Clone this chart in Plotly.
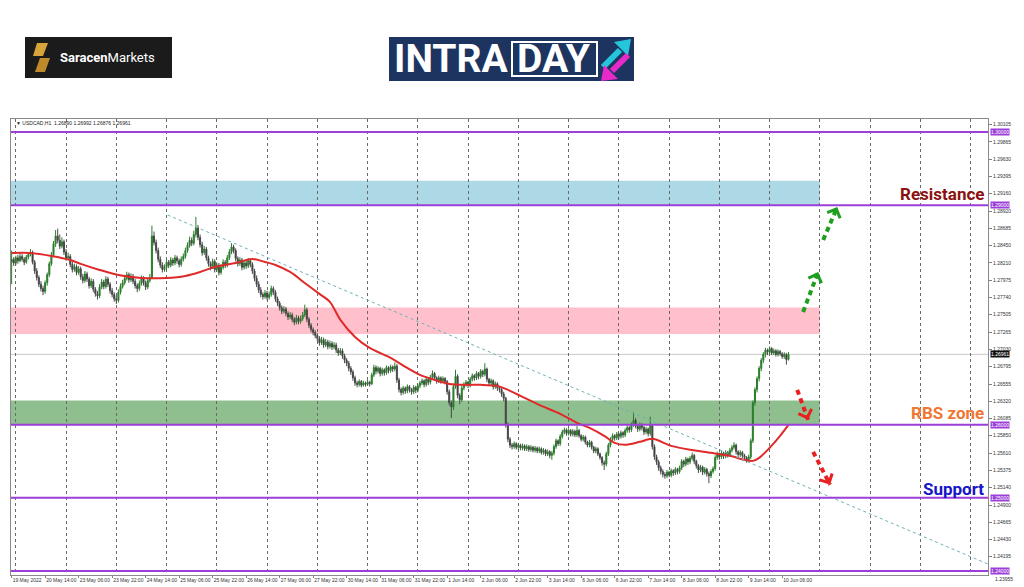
import plotly.graph_objects as go

# ---------------- data ----------------
opens = [
 1.2822, 1.2826, 1.2821, 1.2828, 1.2824, 1.2830, 1.2826, 1.2822, 1.2829, 1.2833, 1.2836, 1.2822,
 1.2810, 1.2801, 1.2792, 1.2786, 1.2782, 1.2794, 1.2805, 1.2820, 1.2832, 1.2847, 1.2858, 1.2852,
 1.2844, 1.2850, 1.2836, 1.2828, 1.2830, 1.2819, 1.2812, 1.2816, 1.2808, 1.2813, 1.2802, 1.2797,
 1.2806, 1.2799, 1.2790, 1.2796, 1.2785, 1.2779, 1.2776, 1.2788, 1.2795, 1.2789, 1.2799, 1.2792,
 1.2783, 1.2778, 1.2772, 1.2770, 1.2781, 1.2789, 1.2794, 1.2800, 1.2805, 1.2798, 1.2803, 1.2796,
 1.2790, 1.2786, 1.2793, 1.2800, 1.2794, 1.2788, 1.2797, 1.2801, 1.2858, 1.2849, 1.2838, 1.2826,
 1.2818, 1.2812, 1.2815, 1.2822, 1.2818, 1.2825, 1.2821, 1.2828, 1.2824, 1.2819, 1.2826, 1.2830,
 1.2838, 1.2845, 1.2852, 1.2848, 1.2860, 1.2869, 1.2856, 1.2846, 1.2835, 1.2840, 1.2828, 1.2820,
 1.2816, 1.2823, 1.2812, 1.2818, 1.2808, 1.2815, 1.2822, 1.2818, 1.2828, 1.2836, 1.2843, 1.2838,
 1.2827, 1.2820, 1.2825, 1.2815, 1.2821, 1.2817, 1.2824, 1.2819, 1.2810, 1.2800, 1.2792, 1.2784,
 1.2778, 1.2775, 1.2780, 1.2774, 1.2778, 1.2786, 1.2781, 1.2772, 1.2766, 1.2760, 1.2755, 1.2758,
 1.2752, 1.2747, 1.2750, 1.2744, 1.2740, 1.2746, 1.2741, 1.2745, 1.2750, 1.2757, 1.2744, 1.2736,
 1.2730, 1.2726, 1.2722, 1.2718, 1.2712, 1.2716, 1.2709, 1.2713, 1.2707, 1.2711, 1.2706, 1.2709,
 1.2702, 1.2698, 1.2701, 1.2694, 1.2688, 1.2684, 1.2677, 1.2672, 1.2664, 1.2657, 1.2655, 1.2659,
 1.2654, 1.2657, 1.2655, 1.2658, 1.2656, 1.2668, 1.2678, 1.2673, 1.2677, 1.2670, 1.2675, 1.2671,
 1.2678, 1.2674, 1.2679, 1.2676, 1.2680, 1.2661, 1.2648, 1.2644, 1.2650, 1.2646, 1.2652, 1.2648,
 1.2645, 1.2651, 1.2647, 1.2653, 1.2657, 1.2660, 1.2655, 1.2662, 1.2658, 1.2665, 1.2670, 1.2664,
 1.2660, 1.2664, 1.2660, 1.2663, 1.2659, 1.2645, 1.2630, 1.2624, 1.2652, 1.2666, 1.2640, 1.2634,
 1.2650, 1.2655, 1.2658, 1.2654, 1.2662, 1.2667, 1.2664, 1.2670, 1.2666, 1.2673, 1.2669, 1.2676,
 1.2662, 1.2657, 1.2660, 1.2652, 1.2656, 1.2650, 1.2648, 1.2642, 1.2636, 1.2600, 1.2580, 1.2572,
 1.2570, 1.2574, 1.2569, 1.2572, 1.2568, 1.2571, 1.2567, 1.2570, 1.2566, 1.2569, 1.2565, 1.2568,
 1.2564, 1.2567, 1.2562, 1.2565, 1.2560, 1.2563, 1.2558, 1.2561, 1.2570, 1.2578, 1.2574, 1.2584,
 1.2590, 1.2593, 1.2588, 1.2592, 1.2587, 1.2591, 1.2586, 1.2592, 1.2585, 1.2580, 1.2583, 1.2576,
 1.2572, 1.2576, 1.2569, 1.2564, 1.2567, 1.2560, 1.2555, 1.2548, 1.2546, 1.2560, 1.2572, 1.2580,
 1.2585, 1.2582, 1.2587, 1.2584, 1.2589, 1.2586, 1.2592, 1.2596, 1.2593, 1.2600, 1.2606, 1.2598,
 1.2594, 1.2600, 1.2596, 1.2590, 1.2594, 1.2588, 1.2599, 1.2570, 1.2556, 1.2549, 1.2541, 1.2536,
 1.2532, 1.2530, 1.2535, 1.2531, 1.2537, 1.2534, 1.2539, 1.2536, 1.2541, 1.2550, 1.2546, 1.2553,
 1.2549, 1.2554, 1.2558, 1.2550, 1.2544, 1.2538, 1.2542, 1.2535, 1.2539, 1.2533, 1.2530, 1.2536,
 1.2540, 1.2555, 1.2560, 1.2556, 1.2561, 1.2557, 1.2562, 1.2559, 1.2565, 1.2569, 1.2572, 1.2563,
 1.2559, 1.2562, 1.2558, 1.2555, 1.2552, 1.2556, 1.2578, 1.2630, 1.2648, 1.2663, 1.2677, 1.2688,
 1.2696, 1.2702, 1.2699, 1.2704, 1.2698, 1.2701, 1.2696, 1.2700, 1.2697, 1.2693, 1.2696, 1.26890,
]
highs = [
 1.2838, 1.2829, 1.2831, 1.2832, 1.2834, 1.2833, 1.2829, 1.2832, 1.2836, 1.2840, 1.2838, 1.2825,
 1.2814, 1.2804, 1.2796, 1.2790, 1.2797, 1.2808, 1.2823, 1.2836, 1.2851, 1.2866, 1.2868, 1.2860,
 1.2856, 1.2853, 1.2840, 1.2835, 1.2833, 1.2823, 1.2820, 1.2819, 1.2817, 1.2816, 1.2806, 1.2810,
 1.2809, 1.2802, 1.2800, 1.2799, 1.2788, 1.2783, 1.2792, 1.2799, 1.2798, 1.2803, 1.2802, 1.2795,
 1.2787, 1.2781, 1.2776, 1.2785, 1.2793, 1.2798, 1.2804, 1.2809, 1.2808, 1.2807, 1.2806, 1.2799,
 1.2793, 1.2797, 1.2804, 1.2803, 1.2797, 1.2801, 1.2806, 1.2872, 1.2864, 1.2853, 1.2842, 1.2830,
 1.2822, 1.2819, 1.2826, 1.2825, 1.2829, 1.2828, 1.2832, 1.2831, 1.2827, 1.2830, 1.2834, 1.2842,
 1.2849, 1.2857, 1.2856, 1.2865, 1.2884, 1.2873, 1.2860, 1.2850, 1.2844, 1.2843, 1.2831, 1.2823,
 1.2827, 1.2826, 1.2822, 1.2821, 1.2819, 1.2826, 1.2825, 1.2832, 1.2840, 1.2848, 1.2846, 1.2841,
 1.2830, 1.2829, 1.2828, 1.2825, 1.2824, 1.2828, 1.2827, 1.2822, 1.2813, 1.2804, 1.2796, 1.2788,
 1.2781, 1.2784, 1.2783, 1.2782, 1.2790, 1.2789, 1.2784, 1.2775, 1.2769, 1.2763, 1.2762, 1.2761,
 1.2755, 1.2754, 1.2753, 1.2747, 1.2750, 1.2749, 1.2749, 1.2754, 1.2764, 1.2760, 1.2747, 1.2739,
 1.2733, 1.2729, 1.2725, 1.2721, 1.2720, 1.2719, 1.2717, 1.2716, 1.2715, 1.2714, 1.2713, 1.2712,
 1.2705, 1.2705, 1.2704, 1.2697, 1.2691, 1.2687, 1.2680, 1.2675, 1.2667, 1.2660, 1.2662, 1.2661,
 1.2660, 1.2659, 1.2661, 1.2660, 1.2671, 1.2682, 1.2681, 1.2680, 1.2679, 1.2678, 1.2677, 1.2681,
 1.2680, 1.2682, 1.2681, 1.2685, 1.2683, 1.2664, 1.2651, 1.2653, 1.2652, 1.2655, 1.2654, 1.2650,
 1.2654, 1.2653, 1.2656, 1.2660, 1.2663, 1.2662, 1.2665, 1.2664, 1.2668, 1.2674, 1.2672, 1.2666,
 1.2667, 1.2666, 1.2666, 1.2665, 1.2661, 1.2648, 1.2633, 1.2656, 1.2675, 1.2669, 1.2643, 1.2654,
 1.2658, 1.2661, 1.2660, 1.2665, 1.2670, 1.2669, 1.2673, 1.2672, 1.2676, 1.2675, 1.2684, 1.2678,
 1.2664, 1.2663, 1.2662, 1.2659, 1.2658, 1.2653, 1.2650, 1.2645, 1.2638, 1.2603, 1.2583, 1.2575,
 1.2577, 1.2576, 1.2575, 1.2574, 1.2574, 1.2573, 1.2573, 1.2572, 1.2572, 1.2571, 1.2571, 1.2570,
 1.2570, 1.2569, 1.2568, 1.2567, 1.2566, 1.2565, 1.2564, 1.2573, 1.2581, 1.2580, 1.2587, 1.2593,
 1.2596, 1.2595, 1.2595, 1.2594, 1.2594, 1.2593, 1.2598, 1.2594, 1.2587, 1.2586, 1.2585, 1.2578,
 1.2579, 1.2578, 1.2571, 1.2570, 1.2569, 1.2562, 1.2557, 1.2551, 1.2563, 1.2575, 1.2583, 1.2588,
 1.2587, 1.2590, 1.2589, 1.2592, 1.2591, 1.2595, 1.2599, 1.2598, 1.2603, 1.2617, 1.2609, 1.2601,
 1.2603, 1.2602, 1.2598, 1.2597, 1.2596, 1.2611, 1.2601, 1.2573, 1.2559, 1.2552, 1.2544, 1.2539,
 1.2535, 1.2538, 1.2537, 1.2540, 1.2539, 1.2542, 1.2541, 1.2544, 1.2553, 1.2552, 1.2556, 1.2555,
 1.2557, 1.2562, 1.2560, 1.2552, 1.2546, 1.2545, 1.2544, 1.2542, 1.2541, 1.2536, 1.2539, 1.2543,
 1.2558, 1.2563, 1.2562, 1.2564, 1.2563, 1.2565, 1.2564, 1.2568, 1.2572, 1.2576, 1.2574, 1.2565,
 1.2565, 1.2564, 1.2560, 1.2557, 1.2559, 1.2581, 1.2633, 1.2651, 1.2666, 1.2680, 1.2691, 1.2699,
 1.2705, 1.2704, 1.2707, 1.2706, 1.2704, 1.2703, 1.2703, 1.2702, 1.2699, 1.2699, 1.2698, 1.26992,
]
lows = [
 1.2792, 1.2817, 1.2818, 1.2820, 1.2822, 1.2823, 1.2818, 1.2820, 1.2826, 1.2830, 1.2819, 1.2806,
 1.2797, 1.2788, 1.2782, 1.2777, 1.2779, 1.2790, 1.2802, 1.2817, 1.2829, 1.2843, 1.2848, 1.2840,
 1.2841, 1.2832, 1.2824, 1.2825, 1.2815, 1.2808, 1.2809, 1.2804, 1.2805, 1.2798, 1.2793, 1.2794,
 1.2795, 1.2786, 1.2787, 1.2781, 1.2775, 1.2771, 1.2773, 1.2785, 1.2785, 1.2786, 1.2788, 1.2779,
 1.2774, 1.2768, 1.2765, 1.2767, 1.2778, 1.2786, 1.2791, 1.2797, 1.2794, 1.2795, 1.2792, 1.2786,
 1.2781, 1.2783, 1.2790, 1.2790, 1.2784, 1.2785, 1.2794, 1.2799, 1.2845, 1.2834, 1.2822, 1.2814,
 1.2808, 1.2809, 1.2812, 1.2814, 1.2815, 1.2817, 1.2818, 1.2820, 1.2815, 1.2816, 1.2823, 1.2827,
 1.2835, 1.2842, 1.2844, 1.2845, 1.2856, 1.2852, 1.2842, 1.2831, 1.2832, 1.2824, 1.2816, 1.2811,
 1.2813, 1.2808, 1.2809, 1.2804, 1.2805, 1.2812, 1.2814, 1.2815, 1.2825, 1.2833, 1.2834, 1.2823,
 1.2816, 1.2817, 1.2811, 1.2812, 1.2813, 1.2814, 1.2815, 1.2806, 1.2796, 1.2788, 1.2780, 1.2774,
 1.2771, 1.2772, 1.2770, 1.2771, 1.2775, 1.2777, 1.2768, 1.2762, 1.2756, 1.2751, 1.2752, 1.2748,
 1.2743, 1.2744, 1.2740, 1.2736, 1.2737, 1.2737, 1.2738, 1.2742, 1.2747, 1.2740, 1.2732, 1.2726,
 1.2722, 1.2718, 1.2714, 1.2708, 1.2709, 1.2705, 1.2706, 1.2703, 1.2704, 1.2702, 1.2703, 1.2698,
 1.2694, 1.2695, 1.2690, 1.2684, 1.2680, 1.2673, 1.2668, 1.2660, 1.2653, 1.2651, 1.2652, 1.2651,
 1.2652, 1.2652, 1.2653, 1.2652, 1.2654, 1.2665, 1.2669, 1.2670, 1.2666, 1.2667, 1.2667, 1.2668,
 1.2670, 1.2671, 1.2672, 1.2673, 1.2657, 1.2644, 1.2640, 1.2641, 1.2642, 1.2643, 1.2644, 1.2641,
 1.2642, 1.2643, 1.2644, 1.2650, 1.2654, 1.2651, 1.2652, 1.2654, 1.2655, 1.2662, 1.2660, 1.2656,
 1.2657, 1.2656, 1.2657, 1.2655, 1.2641, 1.2626, 1.2609, 1.2620, 1.2649, 1.2636, 1.2628, 1.2631,
 1.2647, 1.2652, 1.2650, 1.2651, 1.2659, 1.2660, 1.2661, 1.2662, 1.2663, 1.2665, 1.2666, 1.2658,
 1.2653, 1.2654, 1.2648, 1.2649, 1.2646, 1.2644, 1.2638, 1.2632, 1.2596, 1.2576, 1.2568, 1.2566,
 1.2567, 1.2566, 1.2566, 1.2565, 1.2565, 1.2564, 1.2564, 1.2563, 1.2563, 1.2562, 1.2562, 1.2561,
 1.2561, 1.2559, 1.2559, 1.2557, 1.2557, 1.2554, 1.2552, 1.2558, 1.2567, 1.2571, 1.2571, 1.2581,
 1.2587, 1.2585, 1.2585, 1.2584, 1.2584, 1.2583, 1.2583, 1.2582, 1.2577, 1.2577, 1.2573, 1.2569,
 1.2569, 1.2566, 1.2561, 1.2561, 1.2557, 1.2552, 1.2544, 1.2538, 1.2543, 1.2557, 1.2569, 1.2577,
 1.2578, 1.2579, 1.2580, 1.2581, 1.2582, 1.2583, 1.2589, 1.2589, 1.2590, 1.2597, 1.2595, 1.2590,
 1.2591, 1.2592, 1.2586, 1.2587, 1.2584, 1.2585, 1.2566, 1.2552, 1.2545, 1.2537, 1.2532, 1.2528,
 1.2526, 1.2527, 1.2528, 1.2528, 1.2530, 1.2531, 1.2532, 1.2533, 1.2538, 1.2542, 1.2543, 1.2545,
 1.2546, 1.2551, 1.2546, 1.2540, 1.2534, 1.2535, 1.2531, 1.2532, 1.2529, 1.2520, 1.2527, 1.2533,
 1.2537, 1.2552, 1.2552, 1.2553, 1.2553, 1.2554, 1.2555, 1.2556, 1.2562, 1.2566, 1.2559, 1.2555,
 1.2556, 1.2554, 1.2551, 1.2548, 1.2549, 1.2553, 1.2575, 1.2626, 1.2644, 1.2659, 1.2673, 1.2684,
 1.2692, 1.2695, 1.2696, 1.2695, 1.2695, 1.2693, 1.2693, 1.2694, 1.2690, 1.2690, 1.2682, 1.26876,
]
closes = [
 1.2826, 1.2821, 1.2828, 1.2824, 1.2830, 1.2826, 1.2822, 1.2829, 1.2833, 1.2836, 1.2822, 1.2810,
 1.2801, 1.2792, 1.2786, 1.2782, 1.2794, 1.2805, 1.2820, 1.2832, 1.2847, 1.2858, 1.2852, 1.2844,
 1.2850, 1.2836, 1.2828, 1.2830, 1.2819, 1.2812, 1.2816, 1.2808, 1.2813, 1.2802, 1.2797, 1.2806,
 1.2799, 1.2790, 1.2796, 1.2785, 1.2779, 1.2776, 1.2788, 1.2795, 1.2789, 1.2799, 1.2792, 1.2783,
 1.2778, 1.2772, 1.2770, 1.2781, 1.2789, 1.2794, 1.2800, 1.2805, 1.2798, 1.2803, 1.2796, 1.2790,
 1.2786, 1.2793, 1.2800, 1.2794, 1.2788, 1.2797, 1.2801, 1.2858, 1.2849, 1.2838, 1.2826, 1.2818,
 1.2812, 1.2815, 1.2822, 1.2818, 1.2825, 1.2821, 1.2828, 1.2824, 1.2819, 1.2826, 1.2830, 1.2838,
 1.2845, 1.2852, 1.2848, 1.2860, 1.2869, 1.2856, 1.2846, 1.2835, 1.2840, 1.2828, 1.2820, 1.2816,
 1.2823, 1.2812, 1.2818, 1.2808, 1.2815, 1.2822, 1.2818, 1.2828, 1.2836, 1.2843, 1.2838, 1.2827,
 1.2820, 1.2825, 1.2815, 1.2821, 1.2817, 1.2824, 1.2819, 1.2810, 1.2800, 1.2792, 1.2784, 1.2778,
 1.2775, 1.2780, 1.2774, 1.2778, 1.2786, 1.2781, 1.2772, 1.2766, 1.2760, 1.2755, 1.2758, 1.2752,
 1.2747, 1.2750, 1.2744, 1.2740, 1.2746, 1.2741, 1.2745, 1.2750, 1.2757, 1.2744, 1.2736, 1.2730,
 1.2726, 1.2722, 1.2718, 1.2712, 1.2716, 1.2709, 1.2713, 1.2707, 1.2711, 1.2706, 1.2709, 1.2702,
 1.2698, 1.2701, 1.2694, 1.2688, 1.2684, 1.2677, 1.2672, 1.2664, 1.2657, 1.2655, 1.2659, 1.2654,
 1.2657, 1.2655, 1.2658, 1.2656, 1.2668, 1.2678, 1.2673, 1.2677, 1.2670, 1.2675, 1.2671, 1.2678,
 1.2674, 1.2679, 1.2676, 1.2680, 1.2661, 1.2648, 1.2644, 1.2650, 1.2646, 1.2652, 1.2648, 1.2645,
 1.2651, 1.2647, 1.2653, 1.2657, 1.2660, 1.2655, 1.2662, 1.2658, 1.2665, 1.2670, 1.2664, 1.2660,
 1.2664, 1.2660, 1.2663, 1.2659, 1.2645, 1.2630, 1.2624, 1.2652, 1.2666, 1.2640, 1.2634, 1.2650,
 1.2655, 1.2658, 1.2654, 1.2662, 1.2667, 1.2664, 1.2670, 1.2666, 1.2673, 1.2669, 1.2676, 1.2662,
 1.2657, 1.2660, 1.2652, 1.2656, 1.2650, 1.2648, 1.2642, 1.2636, 1.2600, 1.2580, 1.2572, 1.2570,
 1.2574, 1.2569, 1.2572, 1.2568, 1.2571, 1.2567, 1.2570, 1.2566, 1.2569, 1.2565, 1.2568, 1.2564,
 1.2567, 1.2562, 1.2565, 1.2560, 1.2563, 1.2558, 1.2561, 1.2570, 1.2578, 1.2574, 1.2584, 1.2590,
 1.2593, 1.2588, 1.2592, 1.2587, 1.2591, 1.2586, 1.2592, 1.2585, 1.2580, 1.2583, 1.2576, 1.2572,
 1.2576, 1.2569, 1.2564, 1.2567, 1.2560, 1.2555, 1.2548, 1.2546, 1.2560, 1.2572, 1.2580, 1.2585,
 1.2582, 1.2587, 1.2584, 1.2589, 1.2586, 1.2592, 1.2596, 1.2593, 1.2600, 1.2606, 1.2598, 1.2594,
 1.2600, 1.2596, 1.2590, 1.2594, 1.2588, 1.2599, 1.2570, 1.2556, 1.2549, 1.2541, 1.2536, 1.2532,
 1.2530, 1.2535, 1.2531, 1.2537, 1.2534, 1.2539, 1.2536, 1.2541, 1.2550, 1.2546, 1.2553, 1.2549,
 1.2554, 1.2558, 1.2550, 1.2544, 1.2538, 1.2542, 1.2535, 1.2539, 1.2533, 1.2530, 1.2536, 1.2540,
 1.2555, 1.2560, 1.2556, 1.2561, 1.2557, 1.2562, 1.2559, 1.2565, 1.2569, 1.2572, 1.2563, 1.2559,
 1.2562, 1.2558, 1.2555, 1.2552, 1.2556, 1.2578, 1.2630, 1.2648, 1.2663, 1.2677, 1.2688, 1.2696,
 1.2702, 1.2699, 1.2704, 1.2698, 1.2701, 1.2696, 1.2700, 1.2697, 1.2693, 1.2696, 1.2689, 1.26961,
]

# moving average (red line)
ma_bars = [0, 9, 19, 28, 33, 42, 51, 62, 74, 83, 90, 97, 107, 115, 121, 126, 133, 140, 147, 152,
           157, 164, 171, 181, 188, 195, 202, 209, 217, 224, 232, 236, 243, 252, 262, 270, 276, 283,
           288, 293, 300, 306, 315, 324, 334, 343, 350, 354, 357, 362, 367, 371]
ma_values = [1.28347, 1.28347, 1.28306, 1.28251, 1.28197, 1.28115, 1.28046, 1.28005, 1.28005, 1.28033,
             1.28087, 1.28156, 1.28210, 1.28265, 1.28224, 1.28183, 1.28087, 1.27937, 1.27787, 1.27678,
             1.27432, 1.27199, 1.27049, 1.26913, 1.26790, 1.26680, 1.26612, 1.26557, 1.26544, 1.26544,
             1.26530, 1.26489, 1.26393, 1.26270, 1.26148, 1.26025, 1.25956, 1.25847, 1.25751, 1.25724,
             1.25765, 1.25806, 1.25710, 1.25656, 1.25615, 1.25574, 1.25519, 1.25505, 1.25546, 1.25683,
             1.25847, 1.25997]

# descending trend line (ray)
trend_bars = [74.5, 466.3]
trend_prices = [1.28866, 1.24094]

# time axis labels
date_label_bars = [0, 16, 32, 48, 64, 80, 96, 112, 128, 144, 160, 176, 192, 208, 224, 240,
                   256, 272, 288, 304, 320, 336, 352, 368]
date_labels = ["19 May 2022", "20 May 14:00", "23 May 06:00", "23 May 22:00", "24 May 14:00",
               "25 May 06:00", "25 May 22:00", "26 May 14:00", "27 May 06:00", "27 May 22:00",
               "30 May 14:00", "31 May 06:00", "31 May 22:00", "1 Jun 14:00", "2 Jun 06:00",
               "2 Jun 22:00", "3 Jun 14:00", "6 Jun 06:00", "6 Jun 22:00", "7 Jun 14:00",
               "8 Jun 06:00", "8 Jun 22:00", "9 Jun 14:00", "10 Jun 06:00"]

# price axis labels (the lowest one sits just under the 1.24000 box)
price_ticks = [1.30105, 1.29865, 1.29630, 1.29395, 1.29160, 1.28920, 1.28685, 1.28450, 1.28210,
               1.27975, 1.27740, 1.27505, 1.27265, 1.27030, 1.26795, 1.26555, 1.26320, 1.26085,
               1.25850, 1.25610, 1.25375, 1.25140, 1.24900, 1.24665, 1.24430, 1.24195]
bottom_price_label = 1.23955

# horizontal levels and zones
levels = [1.30000, 1.29000, 1.26000, 1.25000, 1.24000]
zone_lows = [1.29000, 1.27240, 1.26000]
zone_highs = [1.29335, 1.27600, 1.26330]
zone_colors = ["#add8e6", "#ffc0cb", "#8fbf8f"]
zone_end_bar = 386

# level captions
caption_texts = ["Resistance", "RBS zone", "Support"]
caption_prices = [1.29153, 1.26161, 1.25123]
caption_colors = ["#8b1010", "#ee7833", "#1515c8"]

# scenario arrows: (tail bar, tail price, tip bar, tip price)
arrows_up = [(378.0, 1.27541, 385.2, 1.28087), (387.6, 1.28525, 394.3, 1.28975)]
arrows_down = [(375.2, 1.26475, 380.4, 1.26066), (382.8, 1.25628, 390.9, 1.25178)]

header = "▼ USDCAD,H1  1.26890 1.26992 1.26876 1.26961"

# ---------------- layout geometry ----------------
W, H = 1024, 587
PL, PR, PT, PB = 11, 988, 119, 575


def PX(px):
    return (px - PL) / (PR - PL)


def PY(py):
    return (PB - py) / (PB - PT)


LEVEL_COLOR = "#9b3fd8"
AX_FONT = dict(family="Liberation Sans, Arial, sans-serif", size=5, color="#333333")

fig = go.Figure()

shapes = []
for lo, hi, col in zip(zone_lows, zone_highs, zone_colors):
    shapes.append(dict(type="rect", xref="x", yref="y", x0=-1, x1=zone_end_bar, y0=lo, y1=hi,
                       fillcolor=col, line=dict(width=0), layer="below"))
shapes.append(dict(type="line", xref="paper", yref="y", x0=0, x1=1, y0=closes[-1], y1=closes[-1],
                   line=dict(color="#c8c8c8", width=1), layer="below"))
for lv in levels:
    shapes.append(dict(type="line", xref="paper", yref="y", x0=0, x1=1, y0=lv, y1=lv,
                       line=dict(color=LEVEL_COLOR, width=2)))


def prect(x0, y0, x1, y1, **kw):
    return dict(type="rect", xref="paper", yref="paper", x0=PX(x0), x1=PX(x1), y0=PY(y1), y1=PY(y0), **kw)


def ppath(points, color):
    d = "M " + " L ".join("%.5f,%.5f" % (PX(a), PY(b)) for a, b in points) + " Z"
    return dict(type="path", xref="paper", yref="paper", path=d, fillcolor=color, line=dict(width=0))


# logos
shapes.append(prect(25, 37, 172, 78, fillcolor="#1b1b1b", line=dict(width=0)))
shapes.append(ppath([(37, 43), (48, 43), (43, 56), (33, 56)], "#d9a33b"))
shapes.append(ppath([(40, 58), (50, 58), (45, 72), (35, 72)], "#c08a2a"))
shapes.append(prect(389, 37, 634, 81, fillcolor="#1d3461", line=dict(width=0)))
shapes.append(prect(512, 42, 597, 76, fillcolor="#1d3461", line=dict(color="white", width=2)))
shapes.append(dict(type="line", xref="paper", yref="paper", x0=PX(603), y0=PY(67), x1=PX(620), y1=PY(50),
                   line=dict(color="#26c6da", width=6)))
shapes.append(ppath([(631, 39), (614, 42), (628, 56)], "#26c6da"))
shapes.append(dict(type="line", xref="paper", yref="paper", x0=PX(628), y0=PY(55), x1=PX(612), y1=PY(71),
                   line=dict(color="#e52ac8", width=6)))
shapes.append(ppath([(601, 81), (604, 65), (618, 79)], "#e52ac8"))

# candles
fig.add_trace(go.Candlestick(
    x=list(range(len(closes))), open=opens, high=highs, low=lows, close=closes,
    increasing=dict(line=dict(color="#2a7d2a", width=1), fillcolor="#2a7d2a"),
    decreasing=dict(line=dict(color="#4a4a4a", width=1), fillcolor="#1a1a1a"),
    whiskerwidth=0, showlegend=False, hoverinfo="skip"))

# moving average
fig.add_trace(go.Scatter(x=ma_bars, y=ma_values, mode="lines",
                         line=dict(color="#e02a2a", width=2, shape="spline", smoothing=0.8),
                         showlegend=False, hoverinfo="skip"))

# trend line
fig.add_trace(go.Scatter(x=trend_bars, y=trend_prices, mode="lines",
                         line=dict(color="#6fb0b8", width=1, dash="dot"),
                         showlegend=False, hoverinfo="skip"))

annotations = []
for group, col in ((arrows_up, "#1e9e1e"), (arrows_down, "#e82020")):
    for (x0, y0, x1, y1) in group:
        fig.add_trace(go.Scatter(x=[x0, x1], y=[y0, y1], mode="lines",
                                 line=dict(color=col, width=4, dash="5px,4px"),
                                 showlegend=False, hoverinfo="skip"))
        annotations.append(dict(x=x1, y=y1, xref="x", yref="y", ax=x1 - (x1 - x0) * 0.2,
                                ay=y1 - (y1 - y0) * 0.2, axref="x", ayref="y", text="",
                                showarrow=True, arrowhead=4, arrowsize=0.9, arrowwidth=3,
                                arrowcolor=col))

for t, p, c in zip(caption_texts, caption_prices, caption_colors):
    annotations.append(dict(x=PX(986), y=p, xref="paper", yref="y", xanchor="right", yanchor="middle",
                            text="<b>%s</b>" % t, showarrow=False,
                            font=dict(family="Roboto, Arial, sans-serif", size=17, color=c)))

for lv in levels:
    annotations.append(dict(x=1, y=lv, xref="paper", yref="y", xanchor="left", yanchor="middle",
                            xshift=2, text="%.5f" % lv, showarrow=False, bgcolor=LEVEL_COLOR,
                            borderpad=0, font=dict(family=AX_FONT["family"], size=5, color="white")))
annotations.append(dict(x=1, y=closes[-1], xref="paper", yref="y", xanchor="left", yanchor="middle",
                        xshift=2, text="%.5f" % closes[-1], showarrow=False, bgcolor="#111111",
                        borderpad=0, font=dict(family=AX_FONT["family"], size=5, color="white")))
annotations.append(dict(x=1, y=PY(579), xref="paper", yref="paper", xanchor="left", yanchor="middle",
                        xshift=5, text="%.5f" % bottom_price_label, showarrow=False, font=AX_FONT))

annotations.append(dict(x=PX(14), y=PY(123), xref="paper", yref="paper", xanchor="left", yanchor="middle",
                        text=header, showarrow=False,
                        font=dict(family=AX_FONT["family"], size=5, color="#222222")))

annotations.append(dict(x=PX(58), y=PY(57.5), xref="paper", yref="paper", xanchor="left", yanchor="middle",
                        text="<b>Saracen</b>Markets", showarrow=False,
                        font=dict(family="Roboto, Arial, sans-serif", size=13, color="white")))
annotations.append(dict(x=PX(451), y=PY(59), xref="paper", yref="paper", xanchor="center", yanchor="middle",
                        text="<b>INTRA</b>", showarrow=False,
                        font=dict(family="Roboto, Arial, sans-serif", size=39, color="white")))
annotations.append(dict(x=PX(554), y=PY(59), xref="paper", yref="paper", xanchor="center", yanchor="middle",
                        text="<b>DAY</b>", showarrow=False,
                        font=dict(family="Roboto, Arial, sans-serif", size=39, color="white")))

fig.update_layout(
    width=W, height=H,
    margin=dict(l=PL, r=W - PR, t=PT, b=H - PB, autoexpand=False),
    paper_bgcolor="white", plot_bgcolor="white",
    showlegend=False,
    shapes=shapes, annotations=annotations,
    xaxis=dict(range=[-0.3, 466.3], tickmode="array", tickvals=date_label_bars, ticktext=date_labels,
               ticklabelposition="outside right", tickangle=0, automargin=False,
               tickfont=AX_FONT, ticks="outside", ticklen=2,
               tickcolor="#808080", showgrid=False, zeroline=False, showline=True, mirror=True,
               linecolor="#8a8a8a", linewidth=1, rangeslider=dict(visible=False),
               minor=dict(tick0=2, dtick=24, showgrid=True, griddash="dot", gridcolor="#6a6a6a",
                          gridwidth=1, ticks="")),
    yaxis=dict(range=[1.23945, 1.30178], side="right", tickmode="array", tickvals=price_ticks,
               ticktext=["%.5f" % v for v in price_ticks], tickfont=AX_FONT, ticks="outside",
               ticklen=3, tickcolor="#808080", showgrid=False, zeroline=False, showline=True,
               mirror=True, linecolor="#8a8a8a", linewidth=1, automargin=False),
)

fig.write_html("out.html", config={"displayModeBar": False},
               post_script="document.body.style.margin='0px';document.body.style.overflow='hidden';")
